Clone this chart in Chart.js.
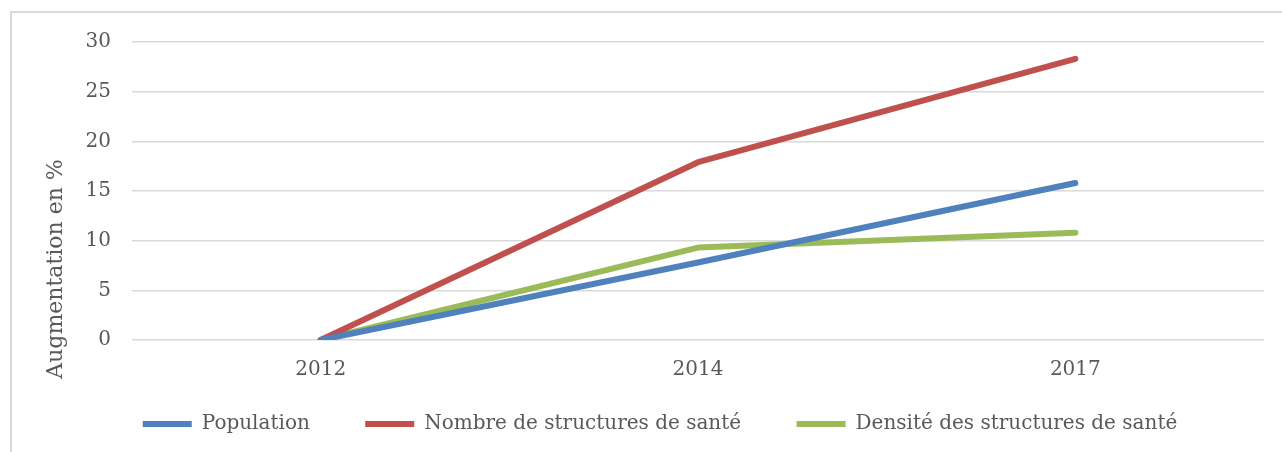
<!DOCTYPE html>
<html>
<head>
<meta charset="utf-8">
<script src="https://cdn.jsdelivr.net/npm/chart.js@4/dist/chart.umd.min.js"></script>
<style>
  html, body { margin: 0; padding: 0; background: #fff; overflow: hidden; }
  #frame { position: absolute; left: 10px; top: 11px; width: 1400px; height: 600px; border: 2px solid #d9d9d9; }
  #wrap { position: absolute; left: 0; top: 0; width: 1282px; height: 452px; }
</style>
</head>
<body>
<div id="frame"></div>
<div id="wrap"><canvas id="chart"></canvas></div>
<script>
// Data
const years = ['2012', '2014', '2017'];
const population = [0, 7.8, 15.8];
const structures = [0, 17.9, 28.3];
const densite = [0, 9.3, 10.8];
const yTicks = [0, 5, 10, 15, 20, 25, 30];

const textColor = '#595959';
const font = 'DejaVu Serif';

// y axis title, placed like the original (lower than the plot centre)
const yTitle = {
	id: 'yTitle',
	afterDraw(chart) {
		const ctx = chart.ctx;
		const area = chart.chartArea;
		ctx.save();
		ctx.translate(area.left - 76, (area.top + area.bottom) / 2 + 78);
		ctx.rotate(-Math.PI / 2);
		ctx.font = '22px "' + font + '"';
		ctx.fillStyle = textColor;
		ctx.textAlign = 'center';
		ctx.textBaseline = 'middle';
		ctx.fillText('Augmentation en %', 0, 0);
		ctx.restore();
	}
};

const line = (label, data, color) => ({
	label: label,
	data: data,
	borderColor: color,
	backgroundColor: color,
	borderWidth: 6,
	borderCapStyle: 'round',
	borderJoinStyle: 'round',
	pointRadius: 0,
	tension: 0,
	fill: false
});

new Chart(document.getElementById('chart').getContext('2d'), {
	type: 'line',
	data: {
		labels: years,
		datasets: [
			line('Population', population, '#4f81bd'),
			line('Nombre de structures de santé', structures, '#c0504d'),
			line('Densité des structures de santé', densite, '#9bbb59')
		]
	},
	options: {
		responsive: true,
		maintainAspectRatio: false,
		animation: false,
		layout: { padding: { left: 56, right: 18, top: 42, bottom: 8 } },
		scales: {
			x: {
				offset: true,
				grid: { display: false, drawTicks: false },
				border: { display: false },
				ticks: { color: textColor, font: { family: font, size: 20 }, padding: 18 },
				afterFit: s => { s.height = 44; }
			},
			y: {
				min: 0,
				max: 30,
				afterBuildTicks: s => { s.ticks = yTicks.map(v => ({ value: v })); },
				grid: { color: '#d9d9d9', lineWidth: 1.5, drawTicks: false },
				border: { display: false },
				ticks: { color: textColor, font: { family: font, size: 20 }, padding: 21 },
				afterFit: s => { s.width = 76; }
			}
		},
		plugins: {
			legend: {
				position: 'bottom',
				labels: {
					usePointStyle: true,
					pointStyle: 'line',
					pointStyleWidth: 49,
					boxHeight: 20,
					padding: 30,
					color: textColor,
					font: { family: font, size: 20 },
					// wider gap after the first two entries, as in the original
					generateLabels: chart => {
						const items = Chart.defaults.plugins.legend.labels.generateLabels(chart);
						items.forEach((item, i) => {
							if (i < items.length - 1) item.text += '    ';
						});
						return items;
					}
				}
			},
			tooltip: { enabled: false }
		}
	},
	plugins: [yTitle]
});
</script>
</body>
</html>
